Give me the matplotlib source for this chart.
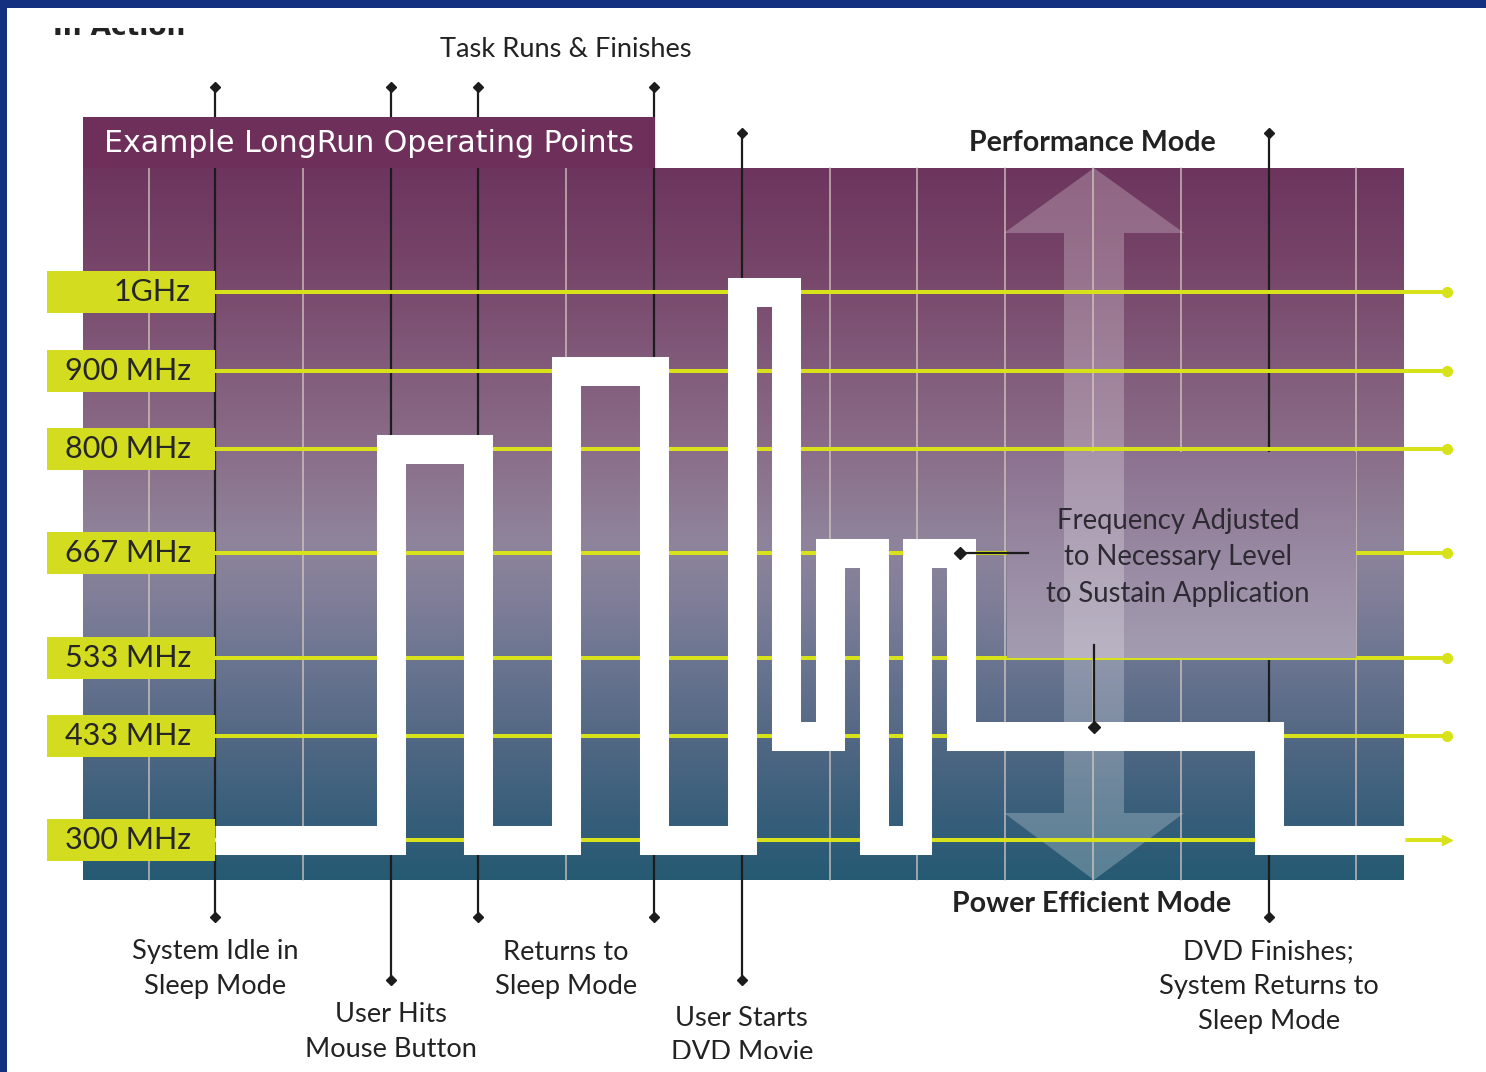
import numpy as np
import matplotlib
matplotlib.use("Agg")
import matplotlib.pyplot as plt
from matplotlib.patches import Rectangle, Polygon
from matplotlib.colors import to_rgb

plt.rcParams['font.family'] = ['Lato', 'DejaVu Sans']

# ---------------- data ----------------
freq_levels = [1000, 900, 800, 667, 533, 433, 300]
freq_labels = ["1GHz", "900 MHz", "800 MHz", "667 MHz", "533 MHz", "433 MHz", "300 MHz"]

# operating-point trace: start time of each segment (grid units) and frequency held (MHz)
seg_start = [0, 2, 3, 4, 5, 6, 6.5, 7, 7.5, 8, 8.5, 12]
seg_freq = [300, 800, 300, 900, 300, 1000, 433, 667, 300, 667, 433, 300]
trace_end = 13.55

# event markers (grid units)
event_times = [0, 2, 3, 5, 6, 12]
grid_times = [-0.75, 1, 4, 7, 8, 9, 10, 11, 13]

# bottom annotations: centre time and lines
bottom_notes_t = [0, 2, 4, 6, 12]
bottom_notes_txt = [["System Idle in", "Sleep Mode"],
                    ["User Hits", "Mouse Button"],
                    ["Returns to", "Sleep Mode"],
                    ["User Starts", "DVD Movie"],
                    ["DVD Finishes;", "System Returns to", "Sleep Mode"]]
freq_note = ["Frequency Adjusted", "to Necessary Level", "to Sustain Application"]

# ---------------- layout helpers (pixel layout -> data coords) ----------------
W, H = 1486, 1072
PX_T, T0 = 87.8, 215.0
PX_MHZ, REF_PY = 0.7827, 292.3


def X(px):
    return (px - T0) / PX_T


def Y(py):
    return 1000 - (py - REF_PY) / PX_MHZ


fig = plt.figure(figsize=(W / 100, H / 100), dpi=100)
ax = fig.add_axes([0, 0, 1, 1])
ax.set_axis_off()
fig.patch.set_facecolor("white")


def grad_img(stops, y0, y1, n=400):
    ys = np.linspace(y0, y1, n)
    sp = [s[0] for s in stops]
    cols = np.array([to_rgb(s[1]) for s in stops])
    img = np.stack([np.interp(ys, sp, cols[:, k]) for k in range(3)], axis=-1)
    return img[:, None, :]


# panel gradient
panel_stops = [(168, "#6d355e"), (260, "#764468"), (360, "#815a7a"), (450, "#8a6d89"),
               (540, "#8f849b"), (600, "#807e98"), (660, "#6b7591"), (740, "#526884"),
               (820, "#365e7a"), (880, "#265a73")]
ax.imshow(grad_img(panel_stops, 168, 880), extent=(X(83), X(1404), Y(880), Y(168)),
          origin="upper", aspect="auto", interpolation="bilinear", zorder=1)

# title box
ax.add_patch(Rectangle((X(83), Y(168)), X(655) - X(83), Y(117) - Y(168),
                       facecolor="#6f2f5b", edgecolor="none", zorder=8))
ax.text(X(104), Y(144), "Example LongRun Operating Points", color="white",
        fontsize=21.6, family="DejaVu Sans", ha="left", va="center", zorder=10)

# big translucent double arrow
arrow_px = [(1094, 168), (1184, 233), (1124, 233), (1124, 813), (1184, 813), (1094, 880),
            (1004, 813), (1064, 813), (1064, 233), (1004, 233)]
arrow_xy = [(X(a), Y(b)) for a, b in arrow_px]
ax.add_patch(Polygon(arrow_xy, closed=True, facecolor="white", alpha=0.24,
                     edgecolor="none", zorder=1.5))

# light grid lines
for t in grid_times:
    ax.plot([t, t], [Y(168), Y(880)], color="#d9ccc4", lw=1.1, alpha=0.85, zorder=2)

# event lines
ev_top = [87, 87, 87, 87, 133, 133]
ev_bot = [917, 980, 917, 917, 980, 917]
for t, a, b in zip(event_times, ev_top, ev_bot):
    ax.plot([t, t], [Y(a), Y(b)], color="#1c1c1c", lw=1.6, zorder=3)
    ax.plot([t, t], [Y(a), Y(b)], ls="none", marker="D", ms=5.5, color="#1c1c1c", zorder=3)

# yellow frequency lines
YEL = "#d8e21a"
for f in freq_levels:
    ax.plot([0, X(1447)], [f, f], color=YEL, lw=2.9, zorder=6, solid_capstyle="butt")
    ax.plot([X(1447)], [f], ls="none", marker=">" if f == 300 else "o",
            ms=7.5 if f == 300 else 7, color=YEL, zorder=6)

# lavender note box
box_stops = [(452, "#8c7290"), (560, "#998aa3"), (658, "#a39db1")]
ax.imshow(grad_img(box_stops, 452, 658), extent=(X(1007), X(1356), Y(658), Y(452)),
          origin="upper", aspect="auto", interpolation="bilinear", zorder=6.5)
clip_rect = Rectangle((X(1007), Y(658)), X(1356) - X(1007), Y(452) - Y(658),
                      transform=ax.transData, facecolor="none", edgecolor="none")
ax.add_patch(clip_rect)
shaft = Polygon(arrow_xy, closed=True, facecolor="white", alpha=0.24, edgecolor="none", zorder=6.6)
ax.add_patch(shaft)
shaft.set_clip_path(clip_rect)

# white operating-point trace
xs, ys = [], []
for i, (s, f) in enumerate(zip(seg_start, seg_freq)):
    e = seg_start[i + 1] if i + 1 < len(seg_start) else trace_end
    xs += [s, e]
    ys += [f, f]
ax.plot(xs, ys, color="white", lw=20.9, solid_joinstyle="miter", solid_capstyle="butt", zorder=7)

# frequency label boxes
LBL = "#d3dc1e"
for f, lab in zip(freq_levels, freq_labels):
    ax.add_patch(Rectangle((X(47), f - 26.8), X(215) - X(47), 53.6,
                           facecolor=LBL, edgecolor="none", zorder=9))
    ax.text(X(191), f, lab, ha="right", va="center", fontsize=22, color="#262626", zorder=10)

# annotation pointer arrows
ax.plot([X(1028), X(960)], [667, 667], color="#1c1c1c", lw=1.6, zorder=11)
ax.plot([X(960)], [667], marker="D", ms=6, color="#1c1c1c", zorder=11)
ax.plot([X(1094), X(1094)], [Y(645), Y(727)], color="#1c1c1c", lw=1.6, zorder=11)
ax.plot([X(1094)], [Y(727)], marker="D", ms=6, color="#1c1c1c", zorder=11)

TXT = "#222222"
ax.text(4, Y(50), "Task Runs & Finishes", ha="center", va="center", fontsize=19.6, color=TXT, zorder=10)
ax.text(X(1092), Y(143), "Performance Mode", ha="center", va="center", fontsize=20.6,
        fontweight="bold", color=TXT, zorder=10)
ax.text(X(1092), Y(904), "Power Efficient Mode", ha="center", va="center", fontsize=20.6,
        fontweight="bold", color=TXT, zorder=10)
for k, line in enumerate(freq_note):
    ax.text(X(1178), Y(521 + 36.5 * k), line, ha="center", va="center", fontsize=19.8,
            color="#2e2a33", zorder=10)

note_y0 = [952, 1015, 952, 1018, 952]
for t, lines, y0 in zip(bottom_notes_t, bottom_notes_txt, note_y0):
    for k, line in enumerate(lines):
        ax.text(t, Y(y0 + 34.5 * k), line, ha="center", va="center", fontsize=19.6,
                color=TXT, zorder=10)

# partially hidden slide title at top-left
ax.text(X(53), Y(35), "In Action", ha="left", va="baseline", fontsize=19,
        fontweight="bold", family="DejaVu Sans", color="#222222", zorder=11)
ax.add_patch(Rectangle((X(0), Y(28)), X(W) - X(0), Y(0) - Y(28), facecolor="white",
                       edgecolor="none", zorder=12))
ax.add_patch(Rectangle((X(0), Y(H)), X(W) - X(0), Y(1059) - Y(H), facecolor="white",
                       edgecolor="none", zorder=12))

# blue slide frame
BLUE = "#12307f"
ax.add_patch(Rectangle((X(0), Y(8)), X(W) - X(0), Y(0) - Y(8), facecolor=BLUE,
                       edgecolor="none", zorder=20))
ax.add_patch(Rectangle((X(0), Y(H)), X(7) - X(0), Y(0) - Y(H), facecolor=BLUE,
                       edgecolor="none", zorder=20))

ax.set_xlim(X(0), X(W))
ax.set_ylim(Y(H), Y(0))

fig.savefig("out.png", dpi=100, facecolor="white")
